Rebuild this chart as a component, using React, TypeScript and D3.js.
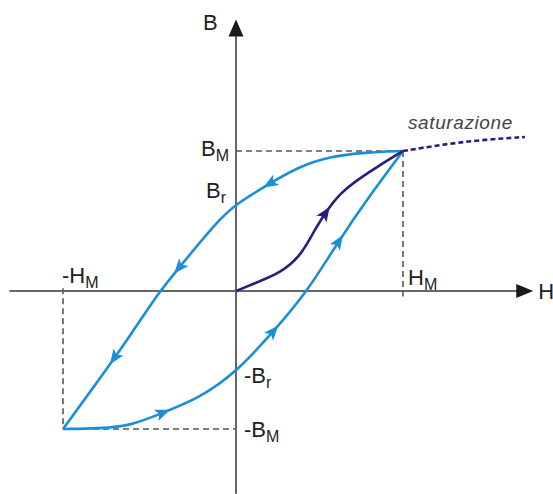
import React, { useEffect, useRef } from 'react';
import * as d3 from 'd3';

const W = 553;
const H = 494;

// field H and induction B, both in units of H_M and B_M
const upperH = [1, 0.77, 0.56, 0.38, 0.19, 0, -0.1, -0.34, -0.44, -0.61, -0.79, -1];
const upperB = [1, 0.99, 0.96, 0.89, 0.76, 0.62, 0.51, 0.15, 0, -0.32, -0.64, -1];
const lowerH = [-1, -0.79, -0.61, -0.42, -0.21, 0, 0.22, 0.43, 0.61, 0.8, 1];
const lowerB = [-1, -0.996, -0.978, -0.88, -0.775, -0.59, -0.3, 0, 0.35, 0.68, 1];
const firstH = [0, 0.144, 0.263, 0.383, 0.461, 0.533, 0.623, 0.743, 0.862, 1];
const firstB = [0, 0.071, 0.129, 0.243, 0.414, 0.557, 0.7, 0.807, 0.9, 1];
const satH = [1, 1.22, 1.46, 1.73];
const satB = [1, 1.043, 1.079, 1.1];

const Br = 0.62;
const axisH = [-1.31, 1.78];
const axisB = [-1.47, 1.94];

// where the little direction arrows sit, as a share of each curve's length
const upperArrows = [0.3, 0.57, 0.81];
const lowerArrows = [0.22, 0.52, 0.76];
const firstArrows = [0.55];

const blue = '#1b8fd5';
const navy = '#2a1d7c';
const grey = '#555';
const font = '"Liberation Sans", Arial, sans-serif';

const x = d3.scaleLinear().domain([-1, 0, 1]).range([63, 236, 403]);
const y = d3.scaleLinear().domain([-1, 0, 1]).range([429, 291, 151]);

const line = d3.line<[number, number]>()
    .x(d => x(d[0]))
    .y(d => y(d[1]))
    .curve(d3.curveBasis);

const zip = (a: number[], b: number[]) => a.map((v, i) => [v, b[i]] as [number, number]);

const Label = ({ px, py, main, sub, dy = 5 }: { px: number; py: number; main: string; sub: string; dy?: number }) => (
    <text x={px} y={py} fontFamily={font} fontSize={22} fill="#222">
        {main}
        <tspan fontSize={16} dy={dy}>{sub}</tspan>
    </text>
);

export default function App() {
    const ref = useRef<SVGGElement>(null);

    useEffect(() => {
        const g = d3.select(ref.current);
        g.selectAll('*').remove();
        const curves = [
            { data: zip(upperH, upperB), at: upperArrows, color: blue },
            { data: zip(lowerH, lowerB), at: lowerArrows, color: blue },
            { data: zip(firstH, firstB), at: firstArrows, color: navy },
        ];
        curves.forEach(c => {
            const p = g.append('path')
                .attr('d', line(c.data))
                .attr('fill', 'none')
                .attr('stroke', c.color)
                .attr('stroke-width', 2.6);
            const node = p.node() as SVGPathElement;
            const len = node.getTotalLength();
            c.at.forEach(f => {
                const l = f * len;
                const a = node.getPointAtLength(l - 2);
                const b = node.getPointAtLength(l + 2);
                const m = node.getPointAtLength(l);
                const ang = Math.atan2(b.y - a.y, b.x - a.x) * 180 / Math.PI;
                g.append('path')
                    .attr('d', 'M8,0 L-7,-6 L-3.5,0 L-7,6 Z')
                    .attr('fill', c.color)
                    .attr('transform', `translate(${m.x},${m.y}) rotate(${ang})`);
            });
        });
    }, []);

    const x0 = x(0), y0 = y(0);
    const xL = x(axisH[0]), xR = x(axisH[1]);
    const yT = y(axisB[1]), yB = y(axisB[0]);

    return (
        <svg width={W} height={H} style={{ position: 'absolute', left: 0, top: 0, background: '#fff' }}>
            {/* guide lines */}
            <g stroke={grey} strokeWidth={1.6} strokeDasharray="6,4" fill="none">
                <line x1={x0} y1={y(1)} x2={x(1)} y2={y(1)} />
                <line x1={x(1)} y1={y(1)} x2={x(1)} y2={y(-0.04)} />
                <line x1={x(-1)} y1={y(0.02)} x2={x(-1)} y2={y(-1)} />
                <line x1={x(-1)} y1={y(-1)} x2={x0} y2={y(-1)} />
            </g>

            {/* axes */}
            <line x1={xL} y1={y0} x2={xR - 10} y2={y0} stroke="#666" strokeWidth={2} />
            <line x1={x0} y1={yB} x2={x0} y2={yT + 10} stroke="#666" strokeWidth={2} />
            <path d={`M${x0},${yT} L${x0 - 7.5},${yT + 17} L${x0 + 7.5},${yT + 17} Z`} fill="#1a1a1a" />
            <path d={`M${xR},${y0} L${xR - 17},${y0 - 7} L${xR - 17},${y0 + 7} Z`} fill="#1a1a1a" />

            {/* saturation */}
            <path d={line(zip(satH, satB)) || ''} fill="none" stroke={navy} strokeWidth={2.6} strokeDasharray="5,3" />
            <text x={x(1) + 5} y={y(1) - 22} fontFamily={font} fontSize={19} letterSpacing={0.6} fontStyle="italic" fill="#444">saturazione</text>

            <g ref={ref} />

            {/* labels */}
            <text x={x0 - 33} y={yT + 11} fontFamily={font} fontSize={22} fill="#222">B</text>
            <text x={xR + 5} y={y0 + 8} fontFamily={font} fontSize={22} fill="#222">H</text>
            <Label px={x0 - 35} py={y(1) + 5} main="B" sub="M" />
            <Label px={x0 - 30} py={y(Br) - 6} main="B" sub="r" />
            <Label px={x0 + 8} py={y(-Br) + 6} main="-B" sub="r" />
            <Label px={x0 + 8} py={y(-1) + 8} main="-B" sub="M" />
            <Label px={x(1) + 5} py={y0 - 6} main="H" sub="M" />
            <Label px={x(-1) - 1} py={y0 - 8} main="-H" sub="M" />
        </svg>
    );
}
